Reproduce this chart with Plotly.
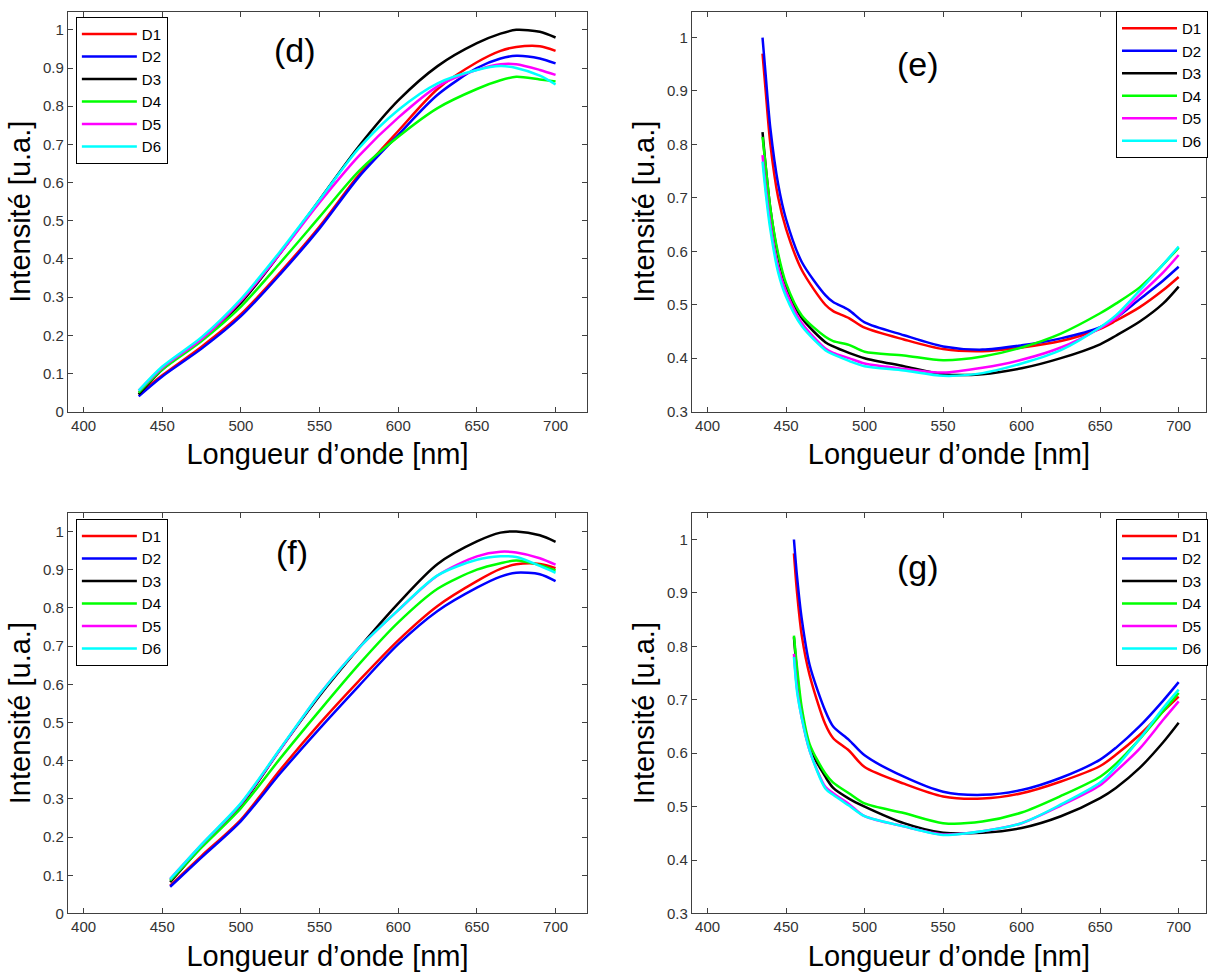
import plotly.graph_objects as go

W, H = 1208, 979

names = ["D1", "D2", "D3", "D4", "D5", "D6"]
colors = ["#FF0000", "#0000FF", "#000000", "#00FF00", "#FF00FF", "#00FFFF"]

# Panel (d)
x_d = [435, 450, 475, 500, 525, 550, 575, 600, 625, 650, 665, 675, 690, 700]
d_D1 = [0.045, 0.095, 0.170, 0.255, 0.365, 0.485, 0.620, 0.735, 0.845, 0.915, 0.945, 0.955, 0.957, 0.945]
d_D2 = [0.040, 0.092, 0.165, 0.250, 0.360, 0.480, 0.615, 0.725, 0.830, 0.900, 0.925, 0.932, 0.925, 0.912]
d_D3 = [0.045, 0.110, 0.190, 0.285, 0.415, 0.555, 0.695, 0.815, 0.905, 0.965, 0.990, 1.000, 0.995, 0.980]
d_D4 = [0.050, 0.110, 0.185, 0.275, 0.390, 0.510, 0.630, 0.720, 0.795, 0.845, 0.868, 0.877, 0.870, 0.865]
d_D5 = [0.055, 0.115, 0.190, 0.290, 0.415, 0.548, 0.670, 0.770, 0.852, 0.895, 0.910, 0.910, 0.895, 0.882]
d_D6 = [0.055, 0.118, 0.195, 0.295, 0.420, 0.555, 0.690, 0.790, 0.860, 0.895, 0.905, 0.900, 0.880, 0.857]

# Panel (e)
x_e = [435, 437, 440, 445, 450, 460, 475, 480, 490, 500, 525, 550, 575, 600, 625, 650, 660, 675, 690, 700]
e_D1 = [0.970, 0.900, 0.800, 0.700, 0.642, 0.565, 0.500, 0.488, 0.475, 0.457, 0.435, 0.417, 0.413, 0.420, 0.432, 0.455, 0.470, 0.495, 0.527, 0.552]
e_D2 = [1.000, 0.930, 0.830, 0.725, 0.660, 0.580, 0.518, 0.505, 0.490, 0.467, 0.443, 0.422, 0.416, 0.424, 0.437, 0.458, 0.475, 0.510, 0.545, 0.571]
e_D3 = [0.823, 0.760, 0.680, 0.590, 0.535, 0.475, 0.430, 0.422, 0.410, 0.400, 0.385, 0.370, 0.370, 0.381, 0.400, 0.426, 0.442, 0.468, 0.502, 0.534]
e_D4 = [0.814, 0.760, 0.680, 0.595, 0.540, 0.480, 0.440, 0.432, 0.425, 0.412, 0.405, 0.396, 0.403, 0.420, 0.446, 0.484, 0.502, 0.532, 0.575, 0.607]
e_D5 = [0.780, 0.720, 0.650, 0.570, 0.525, 0.466, 0.418, 0.410, 0.400, 0.390, 0.380, 0.373, 0.382, 0.397, 0.420, 0.456, 0.475, 0.518, 0.560, 0.593]
e_D6 = [0.768, 0.710, 0.640, 0.560, 0.515, 0.460, 0.415, 0.407, 0.395, 0.385, 0.377, 0.367, 0.372, 0.390, 0.415, 0.458, 0.480, 0.526, 0.575, 0.609]

# Panel (f)
x_f = [455, 475, 500, 525, 550, 575, 600, 625, 650, 665, 675, 690, 700]
f_D1 = [0.073, 0.151, 0.246, 0.376, 0.497, 0.609, 0.715, 0.805, 0.870, 0.902, 0.914, 0.915, 0.904]
f_D2 = [0.070, 0.147, 0.242, 0.367, 0.484, 0.596, 0.705, 0.792, 0.853, 0.882, 0.892, 0.888, 0.870]
f_D3 = [0.082, 0.175, 0.283, 0.430, 0.570, 0.695, 0.812, 0.915, 0.974, 0.997, 1.000, 0.990, 0.973]
f_D4 = [0.086, 0.173, 0.276, 0.406, 0.531, 0.652, 0.762, 0.850, 0.900, 0.917, 0.924, 0.912, 0.898]
f_D5 = [0.090, 0.180, 0.287, 0.430, 0.574, 0.695, 0.794, 0.885, 0.935, 0.947, 0.945, 0.930, 0.913]
f_D6 = [0.090, 0.181, 0.289, 0.432, 0.574, 0.695, 0.794, 0.885, 0.926, 0.935, 0.933, 0.910, 0.892]

# Panel (g)
x_g = [455, 457, 460, 465, 475, 480, 490, 500, 525, 550, 575, 600, 625, 650, 660, 675, 690, 700]
g_D1 = [0.974, 0.900, 0.820, 0.746, 0.654, 0.628, 0.605, 0.574, 0.543, 0.519, 0.515, 0.525, 0.547, 0.576, 0.597, 0.634, 0.678, 0.706]
g_D2 = [1.000, 0.930, 0.851, 0.765, 0.679, 0.650, 0.625, 0.596, 0.556, 0.528, 0.522, 0.531, 0.554, 0.588, 0.610, 0.650, 0.698, 0.733]
g_D3 = [0.817, 0.750, 0.673, 0.610, 0.556, 0.535, 0.515, 0.500, 0.469, 0.451, 0.451, 0.460, 0.482, 0.516, 0.535, 0.572, 0.620, 0.657]
g_D4 = [0.820, 0.760, 0.685, 0.617, 0.562, 0.545, 0.525, 0.506, 0.488, 0.469, 0.472, 0.489, 0.520, 0.556, 0.580, 0.626, 0.678, 0.713]
g_D5 = [0.786, 0.720, 0.666, 0.605, 0.537, 0.525, 0.505, 0.482, 0.463, 0.448, 0.454, 0.469, 0.502, 0.540, 0.566, 0.608, 0.662, 0.697]
g_D6 = [0.780, 0.715, 0.666, 0.605, 0.534, 0.522, 0.502, 0.482, 0.463, 0.447, 0.454, 0.469, 0.504, 0.545, 0.574, 0.626, 0.684, 0.719]

panels = [
    ("(d)", x_d, [d_D1, d_D2, d_D3, d_D4, d_D5, d_D6], "x", "y", "legend"),
    ("(e)", x_e, [e_D1, e_D2, e_D3, e_D4, e_D5, e_D6], "x2", "y2", "legend2"),
    ("(f)", x_f, [f_D1, f_D2, f_D3, f_D4, f_D5, f_D6], "x3", "y3", "legend3"),
    ("(g)", x_g, [g_D1, g_D2, g_D3, g_D4, g_D5, g_D6], "x4", "y4", "legend4"),
]

FONT = "Liberation Sans, Arial, sans-serif"
fig = go.Figure()
for label, xs, series, xa, ya, lg in panels:
    for name, col, ys in zip(names, colors, series):
        fig.add_trace(go.Scatter(
            x=xs, y=ys, name=name, mode="lines",
            line=dict(color=col, width=2.5, shape="spline", smoothing=0.8),
            xaxis=xa, yaxis=ya, legend=lg,
        ))

def px_x(p):
    return p / W

def px_y(p):
    return 1 - p / H

axis_common = dict(
    showline=True, linecolor="#404040", linewidth=1, mirror="allticks",
    ticks="inside", ticklen=5, tickcolor="#404040", tickwidth=1,
    showgrid=False, zeroline=False,
    tickfont=dict(family=FONT, size=15, color="#333333"),
)
xtitle = dict(text="Longueur d’onde [nm]", font=dict(family=FONT, size=29, color="#000000"), standoff=11)
ytitle = dict(text="Intensité [u.a.]", font=dict(family=FONT, size=29, color="#000000"), standoff=3)

left_dom = [px_x(68), px_x(588)]
right_dom = [px_x(693), 1.0]
top_dom = [px_y(415), px_y(12)]
bot_dom = [px_y(921), px_y(517)]

layout = dict(
    width=W, height=H,
    margin=dict(l=0, r=0, t=0, b=0),
    paper_bgcolor="white", plot_bgcolor="white",
    font=dict(family=FONT),
    xaxis=dict(domain=left_dom, anchor="y", range=[390, 720], dtick=50, title=xtitle, **axis_common),
    yaxis=dict(domain=top_dom, anchor="x", range=[0, 1.047], dtick=0.1, title=ytitle, **axis_common),
    xaxis2=dict(domain=right_dom, anchor="y2", range=[390, 717.4], dtick=50, title=xtitle, **axis_common),
    yaxis2=dict(domain=top_dom, anchor="x2", range=[0.3, 1.048], dtick=0.1, title=ytitle, **axis_common),
    xaxis3=dict(domain=left_dom, anchor="y3", range=[390, 720], dtick=50, title=xtitle, **axis_common),
    yaxis3=dict(domain=bot_dom, anchor="x3", range=[0, 1.049], dtick=0.1, title=ytitle, **axis_common),
    xaxis4=dict(domain=right_dom, anchor="y4", range=[390, 717.4], dtick=50, title=xtitle, **axis_common),
    yaxis4=dict(domain=bot_dom, anchor="x4", range=[0.3, 1.05], dtick=0.1, title=ytitle, **axis_common),
)

leg_common = dict(
    bgcolor="white", bordercolor="#000000", borderwidth=1,
    font=dict(family=FONT, size=15, color="#000000"),
    itemwidth=55, xanchor="left", yanchor="top", tracegroupgap=0,
)
layout["legend"] = dict(x=px_x(76), y=px_y(17), **leg_common)
layout["legend2"] = dict(x=px_x(1118), y=px_y(11), **leg_common)
layout["legend3"] = dict(x=px_x(76), y=px_y(523), **leg_common)
layout["legend4"] = dict(x=px_x(1118), y=px_y(523), **leg_common)

fig.update_layout(**layout)

label_pos = [("(d)", 295, 50), ("(e)", 920, 65), ("(f)", 292, 557), ("(g)", 920, 572)]
for txt, px, py in label_pos:
    fig.add_annotation(
        text=txt, x=px_x(px), y=px_y(py), xref="paper", yref="paper",
        showarrow=False, xanchor="center", yanchor="middle",
        font=dict(family=FONT, size=34, color="#000000"),
    )

fig.write_html("out.html")
